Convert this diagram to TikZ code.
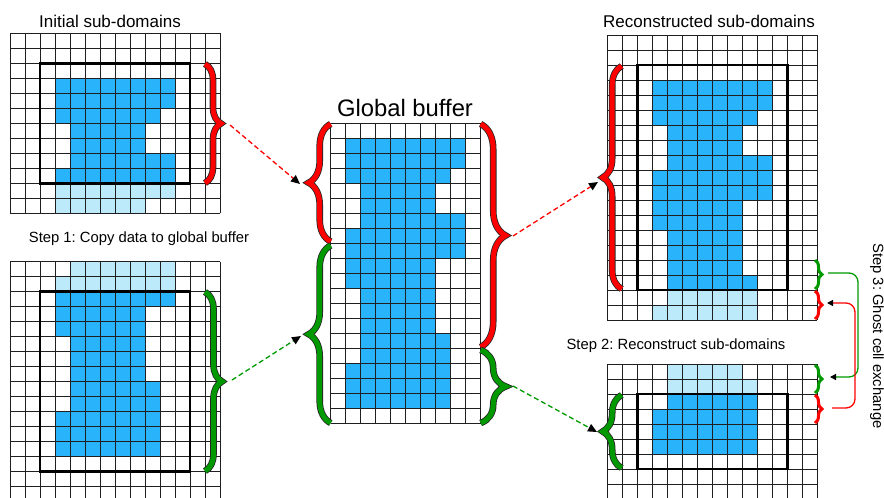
\documentclass[tikz,border=0pt]{standalone}
\usepackage{fontspec}
\setmainfont{Liberation Sans}
\frenchspacing
\usetikzlibrary{arrows.meta,decorations.pathreplacing}
\definecolor{cellblue}{HTML}{29B3FA}
\definecolor{ghostblue}{HTML}{BDEAFB}
\definecolor{bred}{HTML}{FF0000}
\definecolor{bgreen}{HTML}{009A00}
\newcommand\bcell[3]{\fill[cellblue] (#2,#1) rectangle ({#3+1},{#1+1});}
\newcommand\lcell[3]{\fill[ghostblue] (#2,#1) rectangle ({#3+1},{#1+1});}
\newcommand\cellgrid[2]{%
  \foreach \i in {0,...,#1} \draw[gl] (\i,0) -- (\i,#2);
  \foreach \j in {0,...,#2} \draw[gl] (0,\j) -- (#1,\j);}
\newcommand\fatbrace[4]{%
  \draw[bigbrace=#2, line width=6.6pt, black!85] #3 -- #4;
  \draw[bigbrace=#2, line width=5pt, #1] #3 -- #4;}
\newcommand\slimbrace[4]{%
  \draw[bigbrace=#2, line width=3pt, #1] #3 -- #4;}
\begin{document}
\begin{tikzpicture}[x=1pt,y=-1pt,
  gl/.style={black!88,line width=0.85pt},
  subbox/.style={black,line width=2.6pt},
  bigbrace/.style={decorate,decoration={brace,amplitude=#1}},
  dasharrow/.style={line width=1.3pt,dash pattern=on 5pt off 3pt,-{Triangle[color=black,length=9pt,width=8pt]}},
  exarrow/.style={line width=1.3pt,rounded corners=9pt,-{Triangle[color=black,length=6pt,width=6pt]}},
  title/.style={font=\fontsize{17}{20}\selectfont,anchor=base},
  steptext/.style={font=\fontsize{14.8}{18}\selectfont}]
\useasboundingbox (0,0) rectangle (884,498);

% ---------- top-left sub-domain ----------
\begin{scope}[shift={(10,33.3)},x=15pt,y=-15pt]
  \bcell{3}{3}{10}\bcell{4}{3}{10}\bcell{5}{3}{9}\bcell{6}{4}{8}\bcell{7}{4}{8}
  \bcell{8}{4}{10}\bcell{9}{3}{10}
  \lcell{10}{3}{10}\lcell{11}{3}{8}
  \cellgrid{14}{12}
  \draw[subbox] (2,2) rectangle (12,10);
\end{scope}

% ---------- bottom-left sub-domain ----------
\begin{scope}[shift={(10,261.7)},x=15pt,y=-15pt]
  \lcell{0}{4}{10}\lcell{1}{3}{10}
  \bcell{2}{3}{10}\bcell{3}{3}{8}\bcell{4}{3}{8}
  \bcell{5}{4}{8}\bcell{6}{4}{8}\bcell{7}{4}{8}
  \bcell{8}{4}{9}\bcell{9}{4}{9}
  \bcell{10}{3}{9}\bcell{11}{3}{9}\bcell{12}{3}{9}
  \cellgrid{14}{16}
  \draw[subbox] (2,2) rectangle (12,14);
\end{scope}

% ---------- global buffer ----------
\begin{scope}[shift={(330.7,123.3)},x=15pt,y=-15pt]
  \bcell{1}{1}{8}\bcell{2}{1}{8}\bcell{3}{1}{7}\bcell{4}{2}{6}\bcell{5}{2}{6}
  \bcell{6}{2}{8}\bcell{7}{1}{8}\bcell{8}{1}{8}\bcell{9}{1}{6}\bcell{10}{1}{6}
  \bcell{11}{2}{6}\bcell{12}{2}{6}\bcell{13}{2}{6}\bcell{14}{2}{7}\bcell{15}{2}{7}
  \bcell{16}{1}{7}\bcell{17}{1}{7}\bcell{18}{1}{7}
  \cellgrid{10}{20}
\end{scope}

% ---------- top-right reconstructed sub-domain ----------
\begin{scope}[shift={(607.3,35)},x=15pt,y=-15pt]
  \bcell{3}{3}{10}\bcell{4}{3}{10}\bcell{5}{3}{9}\bcell{6}{4}{8}\bcell{7}{4}{8}
  \bcell{8}{4}{10}\bcell{9}{3}{10}\bcell{10}{3}{10}\bcell{11}{3}{8}\bcell{12}{3}{8}
  \bcell{13}{4}{8}\bcell{14}{4}{8}\bcell{15}{4}{8}\bcell{16}{4}{9}
  \lcell{17}{4}{9}\lcell{18}{3}{9}
  \cellgrid{14}{19}
  \draw[subbox] (2,2) rectangle (12,17);
\end{scope}

% ---------- bottom-right reconstructed sub-domain ----------
\begin{scope}[shift={(607.3,364)},x=15pt,y=-15pt]
  \lcell{0}{4}{8}\lcell{1}{4}{9}
  \bcell{2}{4}{9}\bcell{3}{3}{9}\bcell{4}{3}{9}\bcell{5}{3}{9}
  \cellgrid{14}{9}
  \draw[subbox] (2,2) rectangle (12,7);
\end{scope}

% ---------- braces ----------
\fatbrace{bred}{16}{(205,64)}{(205,183)}
\fatbrace{bgreen}{17}{(205,292)}{(205,471)}
\fatbrace{bred}{22}{(330.7,241.5)}{(330.7,124)}
\fatbrace{bgreen}{22}{(330.7,423)}{(330.7,245.5)}
\fatbrace{bred}{25}{(480.7,124)}{(480.7,347)}
\fatbrace{bgreen}{25}{(480.7,350)}{(480.7,423)}
\fatbrace{bred}{19}{(621.7,289)}{(621.7,66)}
\fatbrace{bgreen}{19}{(621.7,468)}{(621.7,395)}
\slimbrace{bgreen}{7}{(815,260)}{(815,289)}
\slimbrace{bred}{7}{(815,291)}{(815,319)}
\slimbrace{bgreen}{7}{(815,365)}{(815,393)}
\slimbrace{bred}{7}{(815,395)}{(815,423)}

% ---------- connector end points ----------
\coordinate (tlout) at (230,125);
\coordinate (glin) at (300,184);
\coordinate (blout) at (232,380);
\coordinate (glin2) at (301,336);
\coordinate (grout) at (513,236);
\coordinate (trin) at (598,182);
\coordinate (grout2) at (513,386);
\coordinate (brin) at (597,432);
\coordinate (gA) at (828,273);
\coordinate (gB) at (830,377);
\coordinate (gX) at (858,0);
\coordinate (rA) at (832,408);
\coordinate (rB) at (827,303);
\coordinate (rX) at (855,0);

\draw[bred,dasharrow] (tlout) -- (glin);
\draw[bgreen,dasharrow] (blout) -- (glin2);
\draw[bred,dasharrow] (grout) -- (trin);
\draw[bgreen,dasharrow] (grout2) -- (brin);
\draw[bgreen,exarrow] (gA) -- (gA -| gX) -- (gB -| gX) -- (gB);
\draw[bred,exarrow] (rA) -- (rA -| rX) -- (rB -| rX) -- (rB);

% ---------- texts ----------
\node[title] (t1) at (110,27) {Initial sub-domains};
\node[title] (t2) at (709,27) {Reconstructed sub-domains};
\node[font=\fontsize{23.8}{28}\selectfont,anchor=base] (t3) at (405,116) {Global buffer};
\node[steptext,anchor=base] (s1) at (139,242.5) {Step 1: Copy data to global buffer};
\node[steptext,anchor=base] (s2) at (676,349) {Step 2: Reconstruct sub-domains};
\node[steptext,rotate=-90] (s3) at (877,336) {Step 3: Ghost cell exchange};
\end{tikzpicture}
\end{document}
